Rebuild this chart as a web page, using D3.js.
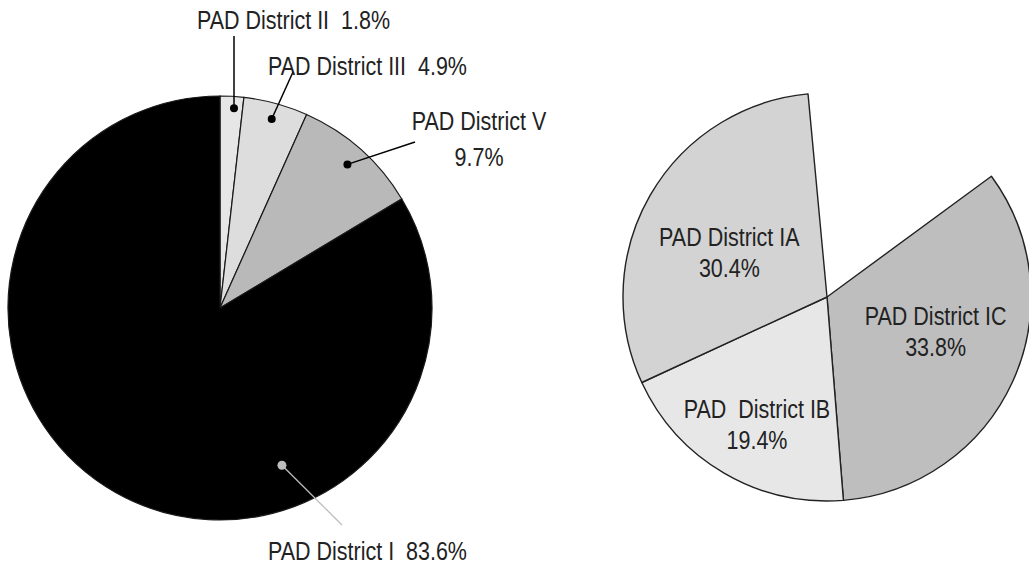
<!DOCTYPE html>
<html>
<head>
<meta charset="utf-8">
<script src="https://cdn.jsdelivr.net/npm/d3@7"></script>
<style>
  body { margin: 0; background: #fff; }
  svg text { font-family: "Liberation Sans", Arial, sans-serif; fill: #222; white-space: pre; }
</style>
</head>
<body>
<div id="chart"></div>
<script>
// left pie: share of each PAD district
const leftNames = ["PAD District II", "PAD District III", "PAD District V", "PAD District I"];
const leftShares = [1.8, 4.9, 9.7, 83.6];
const leftColors = ["#e6e6e6", "#dddddd", "#b9b9b9", "#000000"];

// right pie: District I broken down into sub-districts
const rightNames = ["PAD District IC", "PAD  District IB", "PAD District IA"];
const rightShares = [33.8, 19.4, 30.4];
const rightColors = ["#bebebe", "#e7e7e7", "#d3d3d3"];

const width = 1029, height = 572;
const deg = Math.PI / 180;
const fontSize = 25, squeeze = 0.86; // condensed look without a narrow font

const svg = d3.select("#chart").append("svg")
  .attr("width", width)
  .attr("height", height);

// text squeezed horizontally around its anchor point
function addLabel(parent, x, y, lines, anchor, gap) {
  let t = parent.append("text")
    .attr("transform", "translate(" + x + "," + y + ") scale(" + squeeze + ",1)")
    .attr("text-anchor", anchor)
    .style("font-size", fontSize + "px");
  lines.forEach((ln, k) => {
    t.append("tspan").attr("x", 0).attr("y", k * gap).text(ln);
  });
  return t;
}

// ---- left pie ----
const L = { cx: 220, cy: 308, r: 212 };
let leftData = leftNames.map((n, i) => ({ name: n, value: leftShares[i], color: leftColors[i] }));

let pieL = d3.pie().sort(null).value(d => d.value);
let arcL = d3.arc().innerRadius(0).outerRadius(L.r);

let gL = svg.append("g").attr("transform", "translate(" + L.cx + "," + L.cy + ")");

let leftArcs = pieL(leftData);

gL.selectAll("path")
  .data(leftArcs)
  .enter()
  .append("path")
  .attr("d", arcL)
  .attr("fill", d => d.data.color)
  .attr("stroke", "#1a1a1a")
  .attr("stroke-width", 1.2);

// callouts: dot radius, end of leader line, text placement
const leftCallouts = [
  { dotR: 200, end: [234, 36], lines: ["PAD District II  1.8%"], x: 197, y: 29, anchor: "start" },
  { dotR: 196, end: [293, 72], lines: ["PAD District III  4.9%"], x: 268, y: 75, anchor: "start" },
  { dotR: 192, end: [415, 142], lines: ["PAD District V", "9.7%"], x: 479, y: 130, anchor: "middle" },
  { dotR: 169, end: [342, 525], lines: ["PAD District I  83.6%"], x: 268, y: 560, anchor: "start" }
];

leftArcs.forEach((a, i) => {
  let c = leftCallouts[i];
  let mid = (a.startAngle + a.endAngle) / 2;
  if (i == 3) mid = 158.5 * deg;
  let px = L.cx + c.dotR * Math.sin(mid);
  let py = L.cy - c.dotR * Math.cos(mid);
  let dark = i == 3;
  let col = dark ? "#bdbdbd" : "#000";
  if (i == 0) px = c.end[0];

  svg.append("line")
    .attr("x1", px).attr("y1", py)
    .attr("x2", c.end[0]).attr("y2", c.end[1])
    .attr("stroke", col)
    .attr("stroke-width", dark ? 1.3 : 1.5);

  svg.append("circle")
    .attr("cx", px).attr("cy", py)
    .attr("r", dark ? 4.5 : 4)
    .attr("fill", col);

  addLabel(svg, c.x, c.y, c.lines, c.anchor, 36);
});

// ---- right pie ----
const R = { cx: 827, cy: 297, r: 204 };
let total = d3.sum(rightShares);
let start = 53.7 * deg;

let rightData = rightNames.map((n, i) => ({ name: n, value: rightShares[i], color: rightColors[i] }));

let pieR = d3.pie().sort(null).value(d => d.value)
  .startAngle(start)
  .endAngle(start + total / 100 * 2 * Math.PI);
let arcR = d3.arc().innerRadius(0).outerRadius(R.r);

let gR = svg.append("g").attr("transform", "translate(" + R.cx + "," + R.cy + ")");
let rightArcs = pieR(rightData);

gR.selectAll("path")
  .data(rightArcs)
  .enter()
  .append("path")
  .attr("d", arcR)
  .attr("fill", d => d.data.color)
  .attr("stroke", "#222")
  .attr("stroke-width", 1.4)
  .attr("stroke-linejoin", "round");

// label nudges from the arc centroid
const rightNudge = [[4, -14], [-12, 28], [2, 12]];
let labelArc = d3.arc().innerRadius(115).outerRadius(115);

rightArcs.forEach((d, i) => {
  let c = labelArc.centroid(d);
  addLabel(gR, c[0] + rightNudge[i][0], c[1] + rightNudge[i][1] - 6,
    [d.data.name, d.data.value.toFixed(1) + "%"], "middle", 31);
});
</script>
</body>
</html>
